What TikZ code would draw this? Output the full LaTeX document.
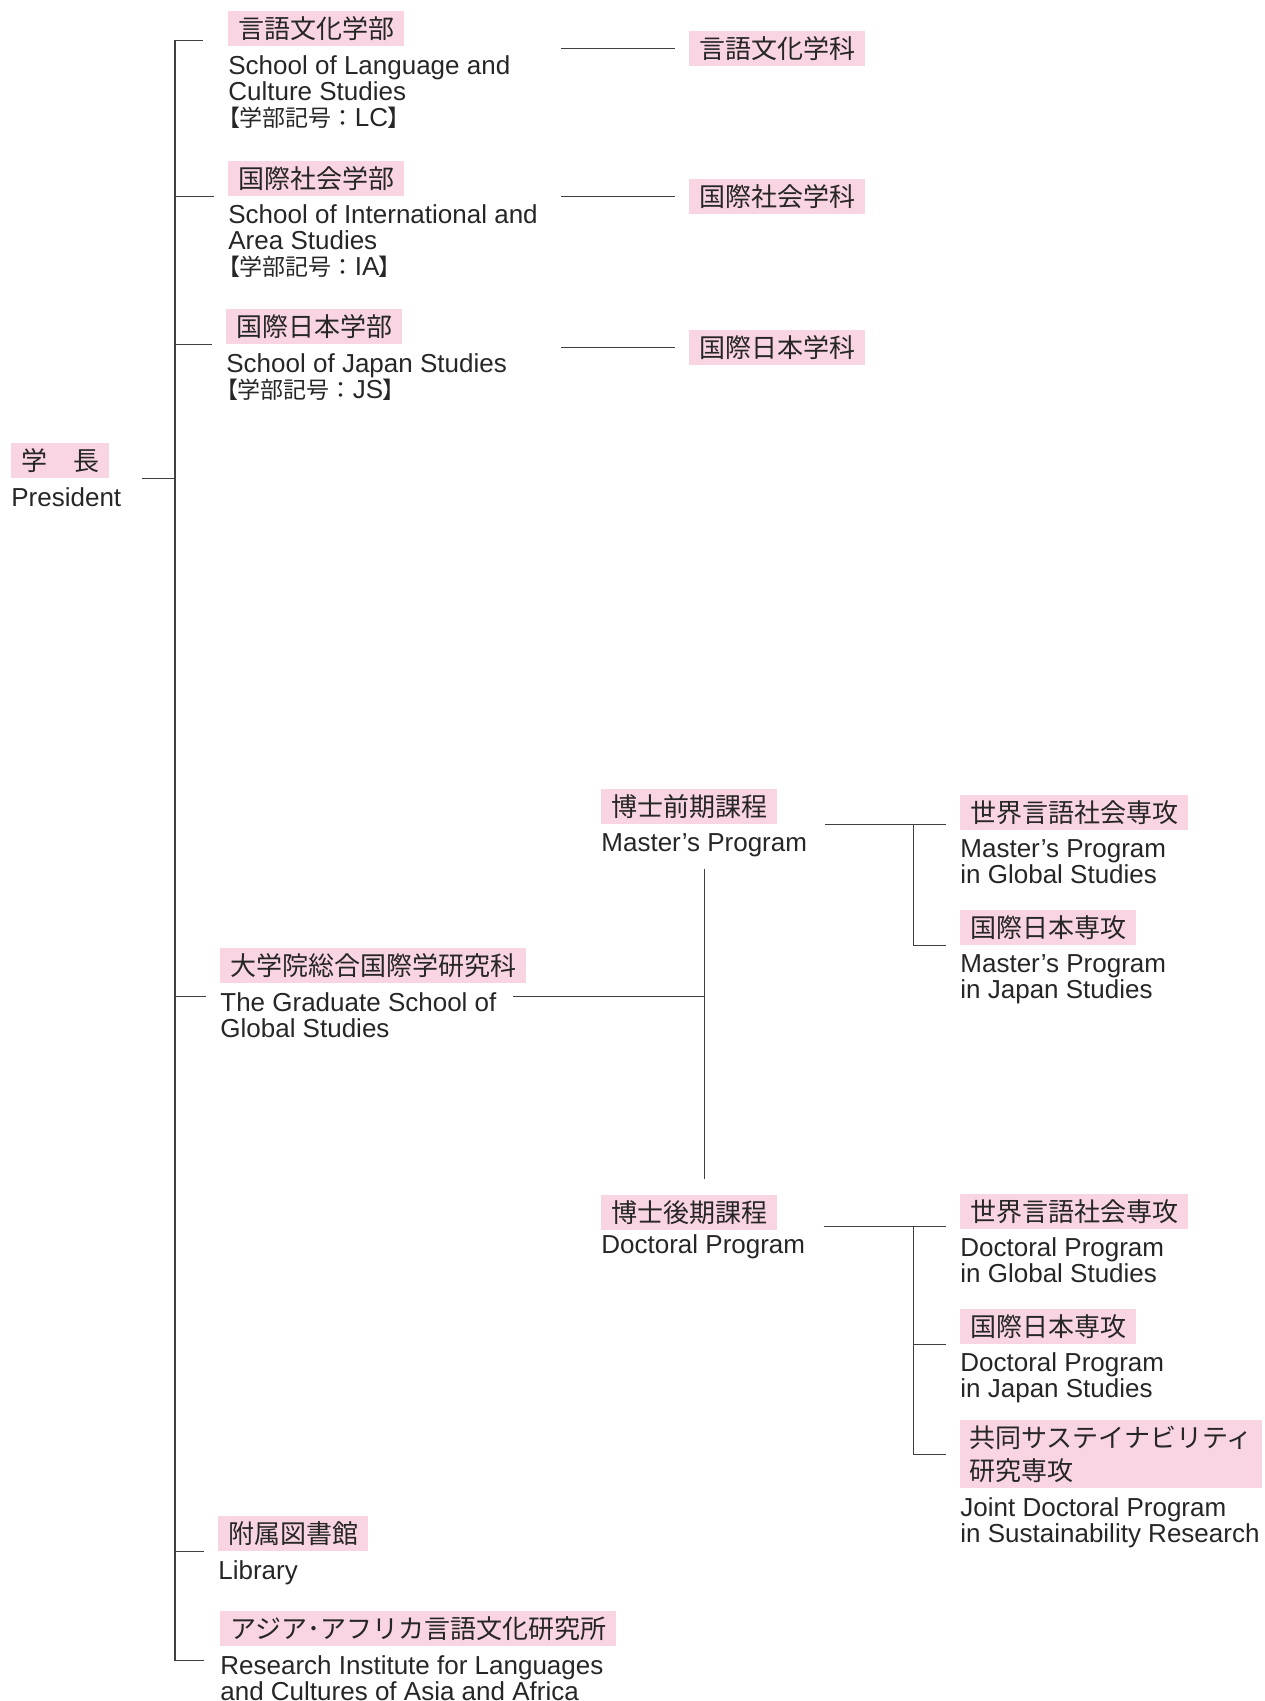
\documentclass[tikz,border=0pt]{standalone}
\usepackage{fontspec}
\setmainfont{Liberation Sans}
\newfontfamily\jpfont{Noto Sans CJK JP}
\newfontfamily\jpprop{Noto Sans CJK JP}[RawFeature=+palt]
\usetikzlibrary{positioning,calc}
\definecolor{headpink}{RGB}{249,212,226}
\newcommand{\facultycode}[1]{{\jpprop\fontsize{11.5}{13}\selectfont 【}{\jpfont\fontsize{11.5}{13}\selectfont 学部記号：}#1{\jpprop\fontsize{11.5}{13}\selectfont 】}}

\begin{document}
\begin{tikzpicture}[
	x=0.5pt, y=-0.5pt,
	node distance=4pt and 4pt,
	font=\fontsize{13}{13}\selectfont
	]
\tikzset{
	jphead/.style = { rectangle, fill=headpink, anchor=north west, inner xsep=5pt, inner ysep=0pt, minimum height=17.5pt, text height=11.44pt, text depth=1.56pt, text=black!85, font=\jpfont\fontsize{13}{16.3}\selectfont },
	entext/.style = { inner sep=0pt, align=left, text=black!85 },
	joinline/.style = { draw=black!75, line width=0.6pt },
	tobox/.style = { shorten >=7pt }
}
	\useasboundingbox (0,0) rectangle (1264,1701);

	% president
	\node (presHead) [jphead] at (11,443) {学　長};
	\node (presEn) [entext, below=4pt of presHead.south west, anchor=north west] {President};

	% schools
	\node (lcHead) [jphead] at (228,11) {言語文化学部};
	\node (lcEn) [entext, below=4pt of lcHead.south west, anchor=north west] {School of Language and\\Culture Studies\\\facultycode{LC}};
	\node (iaHead) [jphead] at (228,160.6) {国際社会学部};
	\node (iaEn) [entext, below=4pt of iaHead.south west, anchor=north west] {School of International and\\Area Studies\\\facultycode{IA}};
	\node (jsHead) [jphead] at (226,309) {国際日本学部};
	\node (jsEn) [entext, below=4pt of jsHead.south west, anchor=north west] {School of Japan Studies\\\facultycode{JS}};

	% departments
	\node (lcDept) [jphead] at (689,30.4) {言語文化学科};
	\node (iaDept) [jphead] at (689,179) {国際社会学科};
	\node (jsDept) [jphead] at (689,330) {国際日本学科};

	% graduate school
	\node (gradHead) [jphead] at (220,948) {大学院総合国際学研究科};
	\node (gradEn) [entext, below=4pt of gradHead.south west, anchor=north west] {The Graduate School of\\Global Studies};
	\node (mastHead) [jphead] at (601,789) {博士前期課程};
	\node (mastEn) [entext, below=4pt of mastHead.south west, anchor=north west] {Master's Program};
	\node (docHead) [jphead] at (601,1194.6) {博士後期課程};
	\node (docEn) [entext, below=2pt of docHead.south west, anchor=north west] {Doctoral Program};

	% majors
	\node (mGlobHead) [jphead] at (960,795) {世界言語社会専攻};
	\node (mGlobEn) [entext, below=4pt of mGlobHead.south west, anchor=north west] {Master's Program\\in Global Studies};
	\node (mJapHead) [jphead] at (960,910) {国際日本専攻};
	\node (mJapEn) [entext, below=4pt of mJapHead.south west, anchor=north west] {Master's Program\\in Japan Studies};
	\node (dGlobHead) [jphead] at (960,1193.5) {世界言語社会専攻};
	\node (dGlobEn) [entext, below=4pt of dGlobHead.south west, anchor=north west] {Doctoral Program\\in Global Studies};
	\node (dJapHead) [jphead] at (960,1308.5) {国際日本専攻};
	\node (dJapEn) [entext, below=4pt of dJapHead.south west, anchor=north west] {Doctoral Program\\in Japan Studies};
	\node (jointHead) [jphead, align=left, inner xsep=4.5pt, minimum height=34pt, text height={}, text depth={}] at (960,1420) {共同サステイナビリティ\\研究専攻};
	\node (jointEn) [entext, below=4pt of jointHead.south west, anchor=north west] {Joint Doctoral Program\\in Sustainability Research};

	% library and institute
	\node (libHead) [jphead] at (218,1516) {附属図書館};
	\node (libEn) [entext, below=4pt of libHead.south west, anchor=north west] {Library};
	\node (riHead) [jphead] at (220,1611) {アジア･アフリカ言語文化研究所};
	\node (riEn) [entext, below=4pt of riHead.south west, anchor=north west] {Research Institute for Languages\\and Cultures of Asia and Africa};

	% helper coordinates
	\coordinate (trunkX) at (175,0);
	\coordinate (deptX) at (561,0);
	\coordinate (majorX) at (913.6,0);
	\coordinate (lcLine) at ([yshift=3pt]lcHead.south west);
	\coordinate (gradLine) at ([yshift=-6.5pt]gradHead.south west);
	\coordinate (docLine) at ([yshift=1.8pt]docHead.south);
	\coordinate (riLine) at ([yshift=-7pt]riHead.south west);

	% paths
	\draw [joinline, shorten <=10pt] (presHead.south -| presEn.east) -- (presHead.south -| trunkX);
	\draw [joinline, shorten <=12.5pt, shorten >=8pt] (lcLine) -- (lcLine -| trunkX) -- (riLine -| trunkX) -- (riLine);
	\draw [joinline, tobox] (iaHead.south -| trunkX) -- (iaHead.south west);
	\draw [joinline, tobox] (jsHead.south -| trunkX) -- (jsHead.south west);
	\draw [joinline, tobox] (gradLine -| trunkX) -- (gradLine);
	\draw [joinline, tobox] (libHead.south -| trunkX) -- (libHead.south west);

	\draw [joinline, tobox] (lcDept.west -| deptX) -- (lcDept.west);
	\draw [joinline, tobox] (iaDept.west -| deptX) -- (iaDept.west);
	\draw [joinline, tobox] (jsDept.west -| deptX) -- (jsDept.west);

	\draw [joinline, shorten <=8pt] (gradLine -| gradEn.east) -- (gradLine -| mastEn.south);
	\draw [joinline, shorten <=6pt, shorten >=8pt] (mastEn.south) -- (mastEn.south |- docHead.north);

	\draw [joinline, shorten <=9pt, tobox] (mastHead.south -| mastEn.east) -- (mastHead.south -| mGlobHead.west);
	\draw [joinline, tobox] (mastHead.south -| majorX) |- (mJapHead.south west);
	\draw [joinline, shorten <=9pt, tobox] (docLine -| docEn.east) -- (docLine -| dGlobHead.west);
	\draw [joinline, tobox] (docLine -| majorX) |- (jointHead.west);
	\draw [joinline, tobox] (dJapHead.south -| majorX) -- (dJapHead.south west);
\end{tikzpicture}
\end{document}
